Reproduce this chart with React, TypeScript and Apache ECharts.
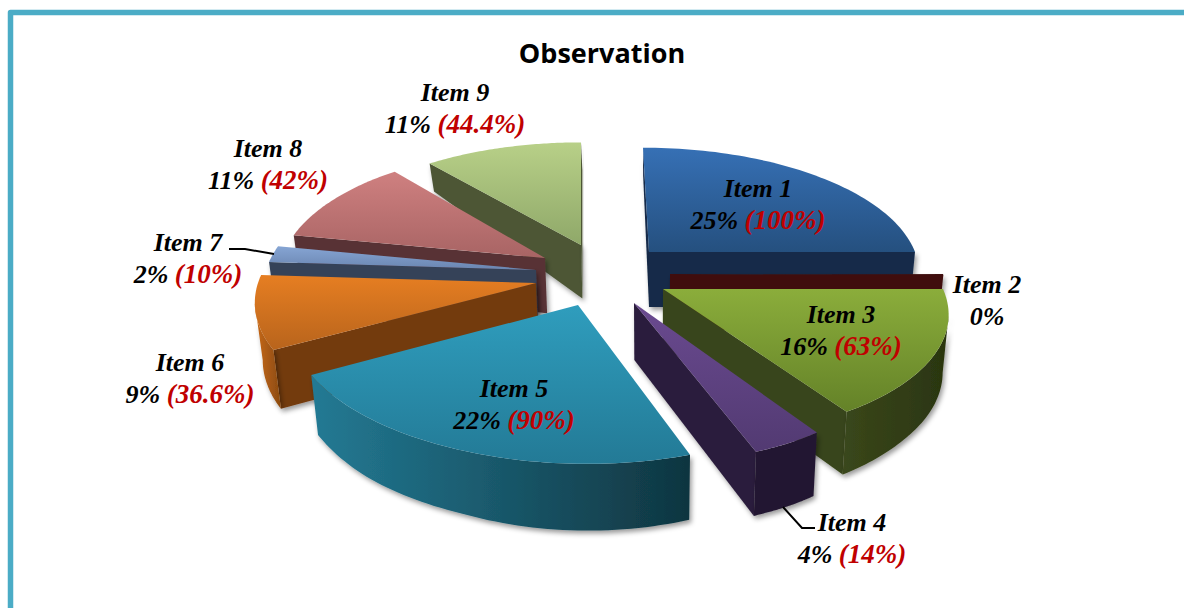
import React, { useEffect, useRef } from "react";
import * as echarts from "echarts";

// ---- data ----
const categories = ["Item 1", "Item 2", "Item 3", "Item 4", "Item 5", "Item 6", "Item 7", "Item 8", "Item 9"];
const shares = [25, 0, 16, 4, 22, 9, 2, 11, 11];
const secondary = ["100%", "", "63%", "14%", "90%", "36.6%", "10%", "42%", "44.4%"];

// ---- exploded slice geometry (styling, not data) ----
const apexX = [649, 670, 663, 634, 578, 536, 536, 545, 581];
const apexY = [252, 274, 289, 303, 305, 283, 270, 258, 245];
const radiusX = [266, 273, 280, 254, 287, 278, 270, 263, 265];
const radiusY = [120, 120, 127, 134, 135, 129, 130, 125, 118];
const skew = [6, 0, 14, 32, 9, 0, 0, 0, 0];
const paintOrder = [2, 3, 5, 8, 7, 6, 4, 1, 0]; // z rank per item
const perspective = 0.15;
const MIN_SWEEP = 0.5;

const topTop = ["#3670b5", "#3f1010", "#8bad3b", "#6a4a90", "#2f9dbd", "#e67e22", "#86a5d4", "#cf8080", "#b8d088"];
const topBottom = ["#25507f", "#3f1010", "#648228", "#523a72", "#237a96", "#b8641c", "#6a85b0", "#a86464", "#8fa869"];
const radialWall = ["#162c4a", "#3f1010", "#38451a", "#2c1e3d", "#1d6074", "#733a0e", "#344259", "#583234", "#4d5636"];
const outerA = ["#1c3757", "#3f1010", "#3a471b", "#231830", "#237a94", "#c96a18", "#344259", "#583234", "#4d5636"];
const outerB = ["#162c4a", "#3f1010", "#2a3510", "#231830", "#0f3540", "#8a4a10", "#344259", "#583234", "#4d5636"];

const labelX = [758, 987, 841, 852, 514, 190, 188, 268, 455];
const labelY = [204, 300, 330, 538, 404, 378, 258, 164, 108];

const leaderItem4 = [[783, 507], [802, 528], [815, 528]];
const leaderItem7 = [[229, 249], [245, 249], [274, 254]];

const depthStops = [[164, 28], [250, 55], [300, 57], [380, 60], [414, 63], [450, 64], [465, 67]];
function depthAt(y: number) {
  if (y <= depthStops[0][0]) return depthStops[0][1];
  for (let i = 1; i < depthStops.length; i++) {
    const [y0, d0] = depthStops[i - 1];
    const [y1, d1] = depthStops[i];
    if (y <= y1) return d0 + ((y - y0) / (y1 - y0)) * (d1 - d0);
  }
  return depthStops[depthStops.length - 1][1];
}
const lowered = (p: number[]) => [p[0] + (650 - p[0]) * 0.02, p[1] + depthAt(p[1])];

function project(i: number, deg: number) {
  const t = (deg * Math.PI) / 180;
  const X = Math.sin(t);
  const Y = Math.cos(t);
  const s = 1 / (1 + Y * perspective);
  return [apexX[i] + X * s * radiusX[i] - skew[i] * Y, apexY[i] - Y * s * radiusY[i]];
}

const wallQuad = (pts: number[][]) => [...pts, ...pts.slice().reverse().map(lowered)];

function renderSlice(params: any, api: any) {
  const i = params.dataIndex;
  const value = api.value(0);
  let startShare = 0;
  for (let k = 0; k < i; k++) startShare += shares[k];
  const start = startShare * 3.6;
  const sweep = Math.max(value * 3.6, MIN_SWEEP);
  const steps = 60;
  const arc: number[][] = [];
  for (let s = 0; s <= steps; s++) arc.push(project(i, start + (sweep * s) / steps));
  const apex = [apexX[i], apexY[i]];
  const base = paintOrder[i] * 10;
  const children: any[] = [];
  const shadow = { shadowBlur: 5, shadowOffsetX: 2, shadowOffsetY: 3, shadowColor: "rgba(0,0,0,0.4)" };

  // radial walls facing the viewer
  const first = arc[0];
  const last = arc[arc.length - 1];
  if (first[0] < apex[0]) {
    children.push({ type: "polygon", z2: base, shape: { points: wallQuad([apex, first]) }, style: { fill: radialWall[i], ...shadow } });
  }
  if (apex[0] < last[0]) {
    children.push({ type: "polygon", z2: base, shape: { points: wallQuad([last, apex]) }, style: { fill: radialWall[i], ...shadow } });
  }
  // outer wall: runs of the arc that travel leftwards
  let run: number[][] = [];
  const flush = () => {
    if (run.length > 1) {
      children.push({
        type: "polygon",
        z2: base + 1,
        shape: { points: wallQuad(run) },
        style: {
          ...shadow,
          fill: new echarts.graphic.LinearGradient(0, 0, 1, 0, [
            { offset: 0, color: outerA[i] },
            { offset: 1, color: outerB[i] },
          ]),
        },
      });
    }
    run = [];
  };
  for (let s = 1; s <= steps; s++) {
    if (arc[s][0] < arc[s - 1][0]) {
      if (!run.length) run.push(arc[s - 1]);
      run.push(arc[s]);
    } else flush();
  }
  flush();
  // top face
  children.push({
    type: "polygon",
    z2: base + 2,
    shape: { points: [apex, ...arc] },
    style: {
      fill: new echarts.graphic.LinearGradient(0, 0, 0, 1, [
        { offset: 0, color: topTop[i] },
        { offset: 1, color: topBottom[i] },
      ]),
    },
  });
  // label
  const sec = secondary[i];
  const pct = `${value}%`;
  const common = { fontFamily: "Liberation Serif", fontStyle: "italic", fontWeight: "bold", fontSize: 26, lineHeight: 32, align: "center" };
  children.push({
    type: "text",
    z2: 200,
    x: labelX[i],
    y: labelY[i],
    style: {
      text: sec ? `{n|${categories[i]}}\n{n|${pct}\u00a0}{r|(${sec})}` : `{n|${categories[i]}}\n{n|${pct}}`,
      align: "center",
      verticalAlign: "middle",
      rich: {
        n: { ...common, fill: "#000000", color: "#000000" },
        r: { ...common, fontSize: 27, fill: "#c00000", color: "#c00000" },
      },
    },
  });
  return { type: "group", children };
}

export default function App() {
  const ref = useRef<HTMLDivElement>(null);
  useEffect(() => {
    document.body.style.margin = "0";
    const chart = echarts.init(ref.current!, undefined, { renderer: "svg" });
    chart.setOption({
      animation: false,
      backgroundColor: "#ffffff",
      title: {
        text: "Observation",
        left: 597,
        top: 34,
        textAlign: "center",
        textStyle: { fontFamily: "Open Sans", fontWeight: "bold", fontSize: 27, color: "#000000" },
      },
      graphic: [
        { type: "polyline", z: 10, shape: { points: [[10.5, 608], [10.5, 12.5], [1184, 12.5]] }, style: { stroke: "#4bacc6", lineWidth: 5.5, fill: "none", lineJoin: "round" } },
        { type: "polyline", z: 10, shape: { points: leaderItem4 }, style: { stroke: "#000000", lineWidth: 2, fill: "none" } },
        { type: "polyline", z: 10, shape: { points: leaderItem7 }, style: { stroke: "#000000", lineWidth: 2, fill: "none" } },
      ],
      series: [
        {
          type: "custom",
          coordinateSystem: "none",
          silent: true,
          renderItem: renderSlice,
          data: categories.map((name, i) => ({ name, value: [shares[i]] })),
        },
      ],
    });
    return () => chart.dispose();
  }, []);
  return <div ref={ref} style={{ position: "absolute", left: 0, top: 0, width: 1184, height: 608 }} />;
}
